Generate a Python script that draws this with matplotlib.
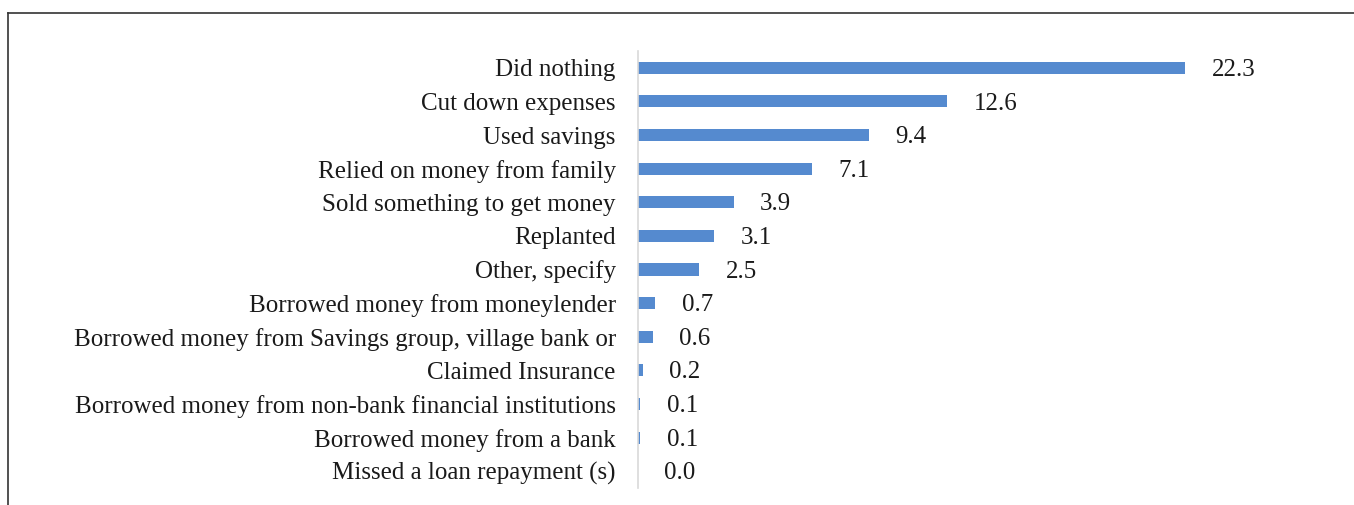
import matplotlib
matplotlib.use("Agg")
import matplotlib.pyplot as plt
from matplotlib.lines import Line2D

categories = [
    "Did nothing",
    "Cut down expenses",
    "Used savings",
    "Relied on money from family",
    "Sold something to get money",
    "Replanted",
    "Other, specify",
    "Borrowed money from moneylender",
    "Borrowed money from Savings group, village bank or",
    "Claimed Insurance",
    "Borrowed money from non-bank financial institutions",
    "Borrowed money from a bank",
    "Missed a loan repayment (s)",
]
values = [22.3, 12.6, 9.4, 7.1, 3.9, 3.1, 2.5, 0.7, 0.6, 0.2, 0.1, 0.1, 0.0]

FONT = "Liberation Serif"
FS = 18
BAR_COLOR = "#558ACF"

W, H = 1354, 505
fig = plt.figure(figsize=(W / 100, H / 100), dpi=100)

ax_left = 638 / W
ax_right = 1300 / W
ax_top = 1 - 51 / H
ax_bottom = 1 - 488 / H
ax = fig.add_axes([ax_left, ax_bottom, ax_right - ax_left, ax_top - ax_bottom])

ypos = list(range(len(categories)))
ax.barh(ypos, values, height=0.36, color=BAR_COLOR)
ax.set_ylim(len(categories) - 0.5, -0.5)
ax.set_xlim(0, (1300 - 638) / 24.53)

ax.set_yticks(ypos)
ax.set_yticklabels(categories, fontfamily=FONT, fontsize=FS, color="#1a1a1a")
ax.tick_params(axis="y", length=0, pad=16)
ax.set_xticks([])

for s in ["top", "right", "bottom"]:
    ax.spines[s].set_visible(False)
ax.spines["left"].set_color("#d9d9d9")
ax.spines["left"].set_linewidth(1.2)

for y, v in zip(ypos, values):
    ax.annotate(f"{v:.1f}", xy=(v, y), xytext=(19, -1.5), textcoords="offset points",
                va="center", ha="left", fontfamily=FONT, fontsize=FS, color="#1a1a1a")

# outer frame (top and left edges visible)
fy = 1 - 13 / H
fx = 8 / W
fig.add_artist(Line2D([fx, 1], [fy, fy], transform=fig.transFigure, color="#333333", lw=1.2))
fig.add_artist(Line2D([fx, fx], [0, fy], transform=fig.transFigure, color="#333333", lw=1.2))

fig.savefig("out.png", dpi=100)
